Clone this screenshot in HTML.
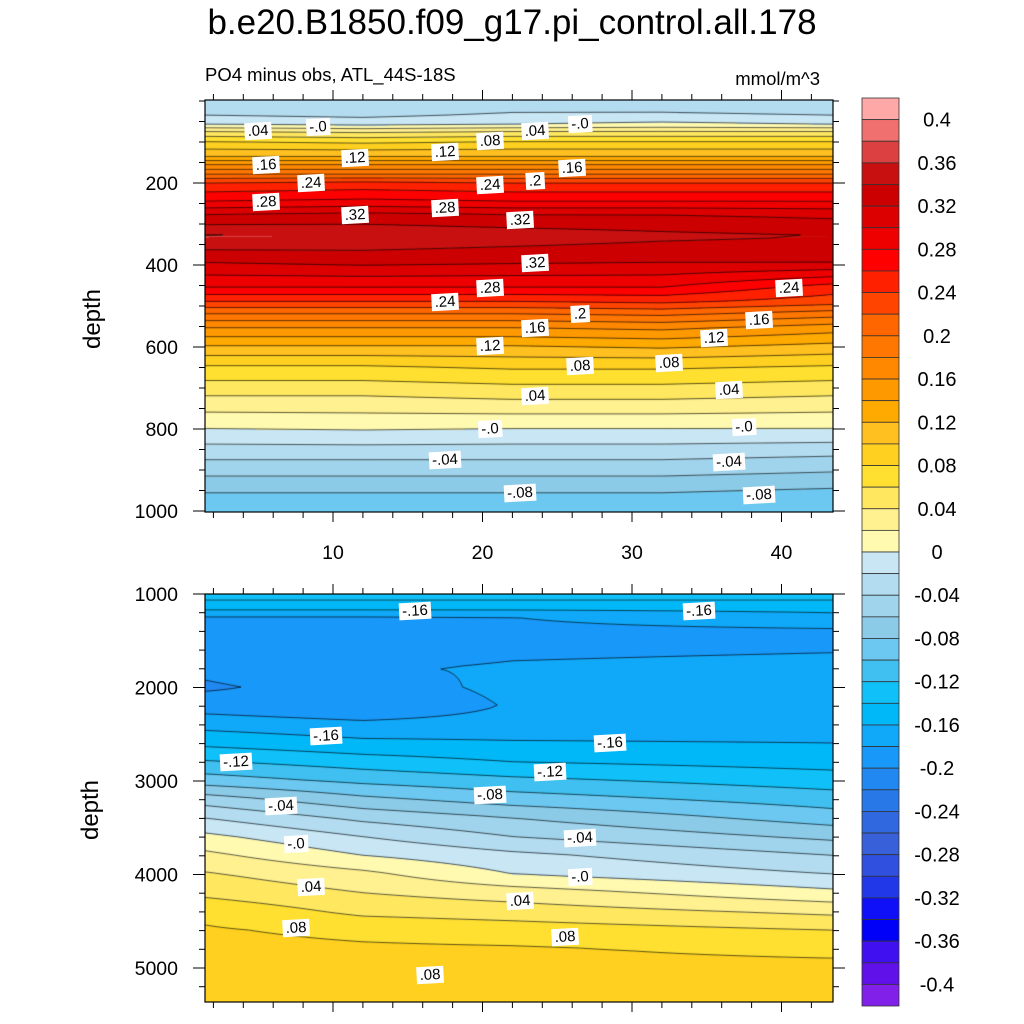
<!DOCTYPE html>
<html><head><meta charset="utf-8">
<style>
body{margin:0;width:1024px;height:1024px;background:#fff;position:relative;overflow:hidden;font-family:"Liberation Sans",sans-serif;}
.abs{position:absolute;}
canvas{position:absolute;}
.cl{position:absolute;background:#fff;font-size:15px;line-height:17px;padding:0 3px;transform:translate(-50%,-50%) rotate(-3deg);color:#000;white-space:nowrap;}
</style></head><body>
<div class="abs" style="left:0;width:1024px;top:3px;text-align:center;font-size:35px;">b.e20.B1850.f09_g17.pi_control.all.178</div>
<div class="abs" style="left:205px;top:64px;font-size:18.5px;">PO4 minus obs, ATL_44S-18S</div>
<div class="abs" style="left:690px;width:130px;text-align:right;top:68px;font-size:18.5px;">mmol/m^3</div>
<div class="abs" style="left:58px;top:305px;font-size:24px;transform:rotate(-90deg);width:70px;text-align:center;">depth</div>
<div class="abs" style="left:56px;top:796px;font-size:24px;transform:rotate(-90deg);width:70px;text-align:center;">depth</div>
<canvas id="cTop" width="628" height="412" style="left:205px;top:100px"></canvas>
<canvas id="cBot" width="628" height="408" style="left:205px;top:594px"></canvas>
<svg id="ov" width="1024" height="1024" style="position:absolute;left:0;top:0"></svg>
<div id="labels"></div>
<script>
// ---- data ----
const levels = [];
for (let i = 0; i <= 40; i++) levels.push(Math.round((-0.4 + i * 0.02) * 100) / 100);
const colors = ["#8020e8","#6010e8","#4010f0","#0000f8","#1010f8","#2038e8","#3050e0","#3860d8","#3068e0","#2878e8","#2088f0","#1898f8","#10a8f8","#00b8f8","#10c0f8","#40c0f0","#6cc8f0","#8ccbe8","#a0d4ec","#b4dcf0","#c8e6f4",
"#fffab0","#fff090","#ffe860","#ffe030","#ffd020","#ffc020","#ffaa00","#ff9900","#ff8800","#ff7700","#ff6600","#ff4400","#ff2000","#ff0000","#ee0000","#dd0000","#cc0000","#c81010","#dd4040","#f07070","#ffa8a8"];
const topCols = [1.4, 12, 22, 32, 43.4];
const topDepths = [0,30,58,75,100,137,156,180,200,246,278,330,395,456,490,520,554,598,646,720,800,876,956,1010];
const topV0 = [-0.03,-0.025,0,0.04,0.08,0.12,0.16,0.2,0.24,0.28,0.32,0.362,0.32,0.28,0.24,0.2,0.16,0.12,0.08,0.04,0,-0.04,-0.08,-0.09];
const topV1 = [-0.035,-0.03,-0.005,0.035,0.075,0.12,0.16,0.2,0.245,0.285,0.325,0.358,0.325,0.28,0.24,0.2,0.16,0.12,0.08,0.04,0.002,-0.04,-0.08,-0.09];
const topV2 = [-0.03,-0.02,0.0,0.04,0.08,0.12,0.16,0.2,0.24,0.28,0.32,0.352,0.322,0.28,0.24,0.2,0.16,0.12,0.085,0.045,0.0,-0.04,-0.08,-0.09];
const topV3 = [-0.025,-0.02,0.005,0.04,0.08,0.12,0.16,0.2,0.24,0.28,0.32,0.345,0.32,0.28,0.245,0.205,0.165,0.125,0.085,0.045,0.0,-0.04,-0.08,-0.09];
const topV4 = [-0.03,-0.025,0.0,0.04,0.08,0.12,0.16,0.2,0.24,0.28,0.315,0.34,0.32,0.25,0.23,0.19,0.15,0.115,0.08,0.04,0.0,-0.045,-0.085,-0.095];
const botCols = [1.4, 12, 22, 43.4];
const botDepths = [1000,1070,1120,1180,1250,1400,1600,1800,2000,2200,2400,2600,2800,3000,3200,3400,3600,3800,4000,4200,4400,4600,4800,5000,5400];
const botV0 = [-0.125,-0.14,-0.15,-0.16,-0.182,-0.187,-0.19,-0.195,-0.203,-0.19,-0.167,-0.145,-0.118,-0.09,-0.05,-0.02,0.005,0.025,0.042,0.055,0.075,0.082,0.086,0.09,0.1];
const botV1 = [-0.125,-0.14,-0.15,-0.16,-0.182,-0.187,-0.188,-0.182,-0.19,-0.199,-0.175,-0.155,-0.13,-0.105,-0.075,-0.045,-0.02,0.0,0.025,0.04,0.055,0.075,0.083,0.087,0.095];
const botV2 = [-0.125,-0.14,-0.15,-0.16,-0.18,-0.185,-0.183,-0.178,-0.175,-0.178,-0.172,-0.158,-0.14,-0.115,-0.09,-0.06,-0.04,-0.015,0.0,0.03,0.05,0.07,0.082,0.085,0.09];
const botV3 = [-0.125,-0.14,-0.15,-0.157,-0.165,-0.183,-0.181,-0.175,-0.172,-0.172,-0.17,-0.16,-0.148,-0.13,-0.11,-0.09,-0.065,-0.04,-0.02,0.005,0.035,0.06,0.075,0.085,0.09];
const topTicks = [200,400,600,800,1000];
const botTicks = [1000,2000,3000,4000,5000];
const xTicks = [10,20,30,40];
const cbLabels = ["0.4","0.36","0.32","0.28","0.24","0.2","0.16","0.12","0.08","0.04","0","-0.04","-0.08","-0.12","-0.16","-0.2","-0.24","-0.28","-0.32","-0.36","-0.4"];
const labelVals = [".04","-.0",".16",".12",".12",".08",".04","-.0",".24",".24",".2",".16",".28",".32",".28",".32",".32",".28",".24",".2",".16",".12",".08",".08",".12",".16",".24",".04",".04","-.0","-.0","-.04","-.04","-.08","-.08",
"-.16","-.16","-.16","-.16","-.12","-.12","-.04","-.08","-.04","-.0","-.0",".04",".04",".08",".08",".08"];
const labelX = [5,9,5.5,11.5,17.5,20.5,23.5,26.5,8.5,20.5,23.5,26,5.5,11.5,17.5,22.5,23.5,20.5,17.5,26.5,23.5,20.5,26.5,32.5,35.5,38.5,40.5,23.5,36.5,20.5,37.5,17.5,36.5,22.5,38.5,
15.5,34.5,9.5,28.5,3.5,24.5,6.5,20.5,26.5,7.5,26.5,8.5,22.5,7.5,25.5,16.5];
const labelD = [72,64,156,138,124,98,74,57,200,206,196,164,246,278,262,290,395,456,490,520,554,598,646,640,578,534,456,720,705,800,795,876,880,956,960,
1180,1180,2520,2590,2800,2900,3270,3150,3610,3670,4030,4130,4280,4570,4670,5080];
// ---- scales ----
const xPx = x => 183.5 + x * 14.95;
const yTop = d => 101 + d * 0.41;
const yBot = d => 594 + (d - 1000) * 0.0935;
function interp(xs, ys, v){
  if (v <= xs[0]) return ys[0];
  for (let i = 1; i < xs.length; i++) if (v <= xs[i]) { const t=(v-xs[i-1])/(xs[i]-xs[i-1]); return ys[i-1]+t*(ys[i]-ys[i-1]); }
  return ys[ys.length-1];
}
function field(cols, depths, profs, x, d){
  const vals = profs.map(p => interp(depths, p, d));
  return interp(cols, vals, x);
}
function colorIdx(v){ let k=0; for (let i=0;i<levels.length;i++) if (v>=levels[i]) k=i+1; return k; }
function hex(c){ return [parseInt(c.slice(1,3),16),parseInt(c.slice(3,5),16),parseInt(c.slice(5,7),16)]; }
const rgb = colors.map(hex);
function render(id, cols, depths, profs, yFn, dOfY){
  const cv=document.getElementById(id), ctx=cv.getContext('2d'), W=cv.width, H=cv.height;
  const img=ctx.createImageData(W,H);
  for (let j=0;j<H;j++){ const d=dOfY(j); for (let i=0;i<W;i++){ const x=(i+0.5+205-183.5)/14.95; const v=field(cols,depths,profs,x,d); const c=rgb[colorIdx(v)]; const o=(j*W+i)*4; img.data[o]=c[0];img.data[o+1]=c[1];img.data[o+2]=c[2];img.data[o+3]=255; } }
  ctx.putImageData(img,0,0);
  const s=3, nx=Math.ceil(W/s)+1, ny=Math.ceil(H/s)+1, g=[];
  for (let j=0;j<ny;j++){ g.push([]); const d=dOfY(j*s); for(let i=0;i<nx;i++){ g[j].push(field(cols,depths,profs,(i*s+205-183.5)/14.95,d)); } }
  ctx.strokeStyle='rgba(0,0,0,0.8)'; ctx.lineWidth=0.8; ctx.beginPath();
  levels.forEach(L=>{
    for (let j=0;j<ny-1;j++) for (let i=0;i<nx-1;i++){
      const a=g[j][i],b=g[j][i+1],c=g[j+1][i+1],e=g[j+1][i];
      const pts=[];
      const ed=(v1,v2,x1,y1,x2,y2)=>{ if((v1<L)!==(v2<L)){ const t=(L-v1)/(v2-v1); pts.push([x1+t*(x2-x1),y1+t*(y2-y1)]); } };
      const X=i*s,Y=j*s;
      ed(a,b,X,Y,X+s,Y); ed(b,c,X+s,Y,X+s,Y+s); ed(e,c,X,Y+s,X+s,Y+s); ed(a,e,X,Y,X,Y+s);
      for (let k=0;k+1<pts.length;k+=2){ ctx.moveTo(pts[k][0],pts[k][1]); ctx.lineTo(pts[k+1][0],pts[k+1][1]); }
    }
  });
  ctx.stroke();
}
render('cTop', topCols, topDepths, [topV0,topV1,topV2,topV3,topV4], yTop, j => (j+100.5-101)/0.41);
render('cBot', botCols, botDepths, [botV0,botV1,botV2,botV3], yBot, j => 1000 + (j+0.5)/0.0935);

// ---- axes overlay ----
const NS='http://www.w3.org/2000/svg', ov=document.getElementById('ov');
function el(tag, attrs, parent){ const e=document.createElementNS(NS,tag); for(const k in attrs) e.setAttribute(k,attrs[k]); (parent||ov).appendChild(e); return e; }
function line(x1,y1,x2,y2,w){ const l=el('line',{x1,y1,x2,y2,stroke:'#000','stroke-width':w||1});   return l; }
function text(x,y,s,anchor,size,name){ const t=el('text',{x,y,'text-anchor':anchor,'font-size':size,'font-family':'Liberation Sans, sans-serif'}); t.textContent=s;   return t; }
const panels=[{top:100,bot:512,yFn:yTop,ticks:topTicks,minorStep:50,dmin:0,dmax:1002},{top:594,bot:1002,yFn:yBot,ticks:botTicks,minorStep:200,dmin:1000,dmax:5364}];
panels.forEach((p,pi)=>{
  const r=el('rect',{x:205,y:p.top,width:628,height:p.bot-p.top,fill:'none',stroke:'#000','stroke-width':1.2});
  
  
  for (let x=2;x<=43;x+=2){ const px=xPx(x); const major=x%10===0; const L=major?10:6; line(px,p.bot,px,p.bot+L); line(px,p.top,px,p.top-L); }
  for (let d=Math.ceil(p.dmin/p.minorStep)*p.minorStep; d<=p.dmax; d+=p.minorStep){ const py=p.yFn(d); if(py<p.top-0.5||py>p.bot+0.5) continue; const major=p.ticks.includes(d); const L=major?12:6; line(205-L,py,205,py); line(833,py,833+L,py); }
  p.ticks.forEach(t=>text(178,p.yFn(t)+7,String(t),'end',19.5, 'y-tick-label'));
});
xTicks.forEach(t=>text(xPx(t),559,String(t),'middle',19.5,'x-tick-label'));
// colorbar
const cbTop=98, cbH=908/colors.length;
for (let k=0;k<colors.length;k++){
  const idx=colors.length-1-k;
  const r=el('rect',{x:862,y:cbTop+k*cbH,width:37,height:cbH,fill:colors[idx],stroke:'#333','stroke-width':0.8});
  
  
}
cbLabels.forEach((s,i)=>text(937, cbTop+cbH*(1+2*i)+7, s,'middle',20,'colorbar-label'));
// contour labels
const lab=document.getElementById('labels');
labelVals.forEach((s,i)=>{
  const d=document.createElement('div'); d.className='cl';
  
  
  const y = i < 35 ? yTop(labelD[i]) : yBot(labelD[i]);
  d.style.left=xPx(labelX[i])+'px'; d.style.top=y+'px'; d.textContent=s; lab.appendChild(d);
});
</script>
</body></html>
